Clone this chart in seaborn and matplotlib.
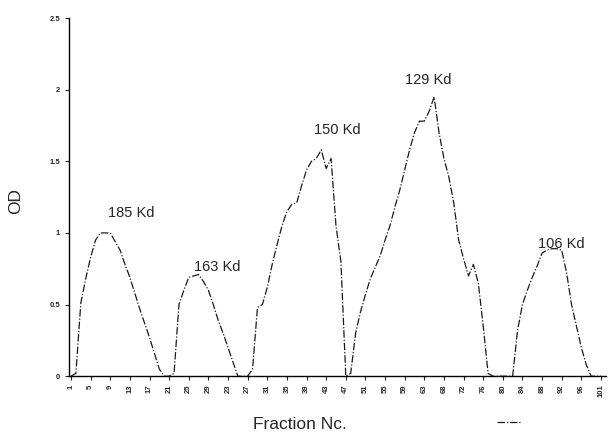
import numpy as np
import pandas as pd
import matplotlib
matplotlib.use('Agg')
import matplotlib.pyplot as plt
import seaborn as sns

# OD por fraccion (una entrada por categoria del eje x)
od = [0, 0.02, 0.51, 0.68, 0.83, 0.95, 1.0, 1.0, 1.0, 0.94,
      0.88, 0.78, 0.69, 0.58, 0.47, 0.37, 0.27, 0.16, 0.05, 0,
      0, 0.02, 0.5, 0.6, 0.69, 0.7, 0.71, 0.66, 0.6, 0.5,
      0.39, 0.3, 0.2, 0.1, 0, 0, 0, 0.05, 0.48, 0.5,
      0.62, 0.78, 0.92, 1.05, 1.15, 1.2, 1.21, 1.33, 1.44, 1.5,
      1.52, 1.58, 1.45, 1.52, 1.05, 0.8, 0, 0.02, 0.3, 0.45,
      0.57, 0.68, 0.76, 0.84, 0.95, 1.05, 1.18, 1.3, 1.44, 1.58,
      1.7, 1.78, 1.78, 1.85, 1.95, 1.7, 1.52, 1.39, 1.21, 0.95,
      0.82, 0.7, 0.78, 0.65, 0.35, 0.02, 0, 0, 0, 0,
      0, 0.32, 0.5, 0.6, 0.69, 0.77, 0.86, 0.88, 0.89, 0.89,
      0.88, 0.72, 0.5, 0.35, 0.2, 0.08, 0, 0, 0]

# etiquetas del eje x (cada 4 categorias, tal como aparecen)
tick_labels = ['1', '5', '9', '13', '17', '21', '25', '29', '23', '27',
               '31', '35', '39', '43', '47', '51', '55', '59', '63', '68',
               '72', '76', '80', '84', '88', '92', '96', '101']

# pesos moleculares de los picos
peak_labels = ['185 Kd', '163 Kd', '150 Kd', '129 Kd', '106 Kd']
peak_x = [12.2, 29.8, 54.3, 72.9, 100.0]
peak_y = [1.14, 0.76, 1.72, 2.07, 0.92]

data = pd.DataFrame({'idx': np.arange(len(od)), 'OD': od})

sns.set_style('white')
plt.rcParams['font.family'] = ['Liberation Sans', 'DejaVu Sans']

fig = plt.figure(figsize=(6.12, 4.4), dpi=100)
ax = fig.add_axes([0.112, 0.145, 0.878, 0.814])

sns.lineplot(data=data, x='idx', y='OD', ax=ax, color='#1a1a1a',
             linewidth=0.9, linestyle=(0, (6, 1.5, 1, 1.5)), label=' ')

for lab, px, py in zip(peak_labels, peak_x, peak_y):
    ax.text(px, py, lab, ha='center', va='center', fontsize=10.5)

ax.set_xlim(-0.5, 109)
ax.set_ylim(0, 2.5)
ax.set_xticks(np.arange(0, len(od), 4))
ax.set_xticklabels(tick_labels, rotation=90, fontsize=5.5, fontweight='bold')
ax.set_yticks([0, 0.5, 1, 1.5, 2, 2.5])
ax.set_yticklabels(['0', '0.5', '1', '1.5', '2', '2.5'], fontsize=5.5,
                   fontweight='bold')
ax.tick_params(axis='both', length=3, width=0.8, direction='out', pad=3)
ax.tick_params(axis='x', bottom=True)
ax.tick_params(axis='y', left=True)

ax.set_xlabel('Fraction Nc.', fontsize=12.5)
ax.set_ylabel('OD', fontsize=12.5)
ax.xaxis.set_label_coords(0.43, -0.115)
ax.yaxis.set_label_coords(-0.085, 0.49)

for s in ['top', 'right']:
    ax.spines[s].set_visible(False)
for s in ['left', 'bottom']:
    ax.spines[s].set_color('black')
    ax.spines[s].set_linewidth(1.0)

leg = ax.legend(loc='center', bbox_to_anchor=(0.83, -0.13), frameon=False,
                handlelength=2.0, fontsize=8)

fig.savefig('out.png', dpi=100)
